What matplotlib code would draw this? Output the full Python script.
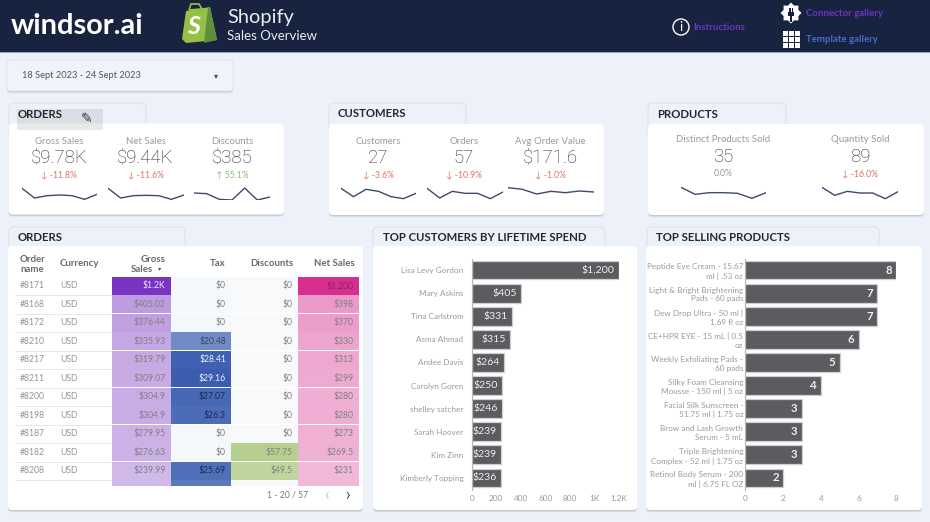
import numpy as np
import matplotlib
matplotlib.use("Agg")
import matplotlib.pyplot as plt
from matplotlib.patches import FancyBboxPatch, Rectangle, Polygon, Circle
from matplotlib.ticker import FuncFormatter

plt.rcParams['font.family'] = ['Lato', 'DejaVu Sans']

# ---------- data ----------
customers = ["Lisa Levy Gordon", "Mary Askins", "Tina Carlstrom", "Asma Ahmad", "Andee Davis",
             "Carolyn Goren", "shelley satcher", "Sarah Hoover", "Kim Zinn", "Kimberly Topping"]
customer_spend = [1200, 405, 331, 315, 264, 250, 246, 239, 239, 236]
products = ["Peptide Eye Cream - 15.67\nml | .53 oz", "Light & Bright Brightening\nPads - 60 pads",
            "Dew Drop Ultra - 50 ml |\n1.69 fl oz", "CE+HPR EYE - 15 mL | 0.5\noz",
            "Weekly Exfoliating Pads -\n60 pads", "Silky Foam Cleansing\nMousse - 150 ml | 5 oz",
            "Facial Silk Sunscreen -\n51.75 ml | 1.75 oz", "Brow and Lash Growth\nSerum - 5 mL",
            "Triple Brightening\nComplex - 52 ml | 1.75 oz", "Retinol Body Serum - 200\nml | 6.75 FL OZ"]
product_qty = [8, 7, 7, 6, 5, 4, 3, 3, 3, 2]

order_names = ["#8171", "#8168", "#8172", "#8210", "#8217", "#8211", "#8200", "#8198", "#8187", "#8182", "#8208"]
gross = [1200, 405.02, 376.44, 335.93, 319.79, 309.07, 304.9, 304.9, 279.95, 276.63, 239.99]
gross_txt = ["$1.2K", "$405.02", "$376.44", "$335.93", "$319.79", "$309.07", "$304.9", "$304.9", "$279.95", "$276.63", "$239.99"]
tax = [0, 0, 0, 20.48, 28.41, 29.16, 27.07, 26.3, 0, 0, 25.69]
tax_txt = ["$0", "$0", "$0", "$20.48", "$28.41", "$29.16", "$27.07", "$26.3", "$0", "$0", "$25.69"]
discounts = [0, 0, 0, 0, 0, 0, 0, 0, 0, 57.75, 49.5]
disc_txt = ["$0"] * 9 + ["$57.75", "$49.5"]
net = [1200, 398, 370, 330, 313, 299, 280, 280, 273, 269.5, 231]
net_txt = ["$1,200", "$398", "$370", "$330", "$313", "$299", "$280", "$280", "$273", "$269.5", "$231"]

kpi_labels = ["Gross Sales", "Net Sales", "Discounts", "Customers", "Orders", "Avg Order Value",
              "Distinct Products Sold", "Quantity Sold"]
kpi_values = ["$9.78K", "$9.44K", "$385", "27", "57", "$171.6", "35", "89"]
kpi_deltas = ["-11.8%", "-11.6%", "55.1%", "-3.6%", "-10.9%", "-1.0%", "0.0%", "-16.0%"]
spark_gross = [35, 6, 13, 15, 13, 2, 17]
spark_net = [35, 6, 13, 14, 13, 2, 15]
spark_disc = [21, 19, 2, 0, 36, 0, 9]
spark_cust = [35, 10, 32, 26, 10, 4, 20]
spark_orders = [35, 6, 26, 20, 20, 4, 24]
spark_aov = [37, 32, 18, 26, 22, 27, 24]
spark_dist = [38, 17, 22, 22, 20, 5, 22]
spark_qty = [38, 14, 26, 21, 21, 4, 25]

W, H = 930, 522
GREY = "#9a9a9c"
BG = "#edf1f9"
BAR = "#5b5c60"


def px_axes(x0, y0, x1, y1):
    return fig.add_axes([x0 / W, 1 - y1 / H, (x1 - x0) / W, (y1 - y0) / H])


def fs(px):
    return px * 0.72


fig = plt.figure(figsize=(9.3, 5.22), dpi=100, facecolor=BG)
bg = fig.add_axes([0, 0, 1, 1])
bg.set_xlim(0, W)
bg.set_ylim(H, 0)
bg.axis("off")


def box(x0, y0, x1, y1, fc="white", z=2, r=4, shadow=True, ec="none"):
    if shadow:
        for off, a in ((2.2, .10), (1.2, .18)):
            bg.add_patch(FancyBboxPatch((x0 + r, y0 + r + off), x1 - x0 - 2 * r, y1 - y0 - 2 * r,
                                        boxstyle=f"round,pad={r},rounding_size={r}", fc="#555", ec="none",
                                        alpha=a, zorder=z))
    bg.add_patch(FancyBboxPatch((x0 + r, y0 + r), x1 - x0 - 2 * r, y1 - y0 - 2 * r,
                                boxstyle=f"round,pad={r},rounding_size={r}", fc=fc, ec=ec, lw=.6, zorder=z))


# header
bg.add_patch(Rectangle((0, 0), W, 52, fc="#18243f", ec="none", zorder=1))
bg.add_patch(Rectangle((0, 52), W, 1, fc="#9aa3b5", ec="none", zorder=1))
bg.text(11, 26, "windsor.ai", color="white", fontsize=fs(29), fontweight="bold", va="center", zorder=3)
bg.add_patch(Polygon([[186, 11], [210, 7], [217, 40], [186, 43], [182, 39]], fc="#95bf47", ec="none", zorder=3))
bg.add_patch(Polygon([[208, 8], [210, 7], [217, 40], [204, 43]], fc="#5e8e3e", ec="none", zorder=3))
bg.add_patch(Polygon([[189, 10], [191, 4], [199, 4], [202, 9]], fc="none", ec="#95bf47", lw=1.2, zorder=3))
bg.text(193.5, 27, "S", color="white", fontsize=fs(25), fontweight="bold", fontstyle="italic", ha="center",
        va="center", zorder=4)
bg.text(227, 17, "Shopify", color="#e8ebf0", fontsize=fs(20), va="center", zorder=3)
bg.text(227, 36, "Sales Overview", color="#e8ebf0", fontsize=fs(13.3), va="center", zorder=3)

bg.add_patch(Circle((681, 27), 8, fc="none", ec="white", lw=1, zorder=3))
bg.text(681, 27, "i", color="white", fontsize=fs(13), ha="center", va="center", zorder=3)
bg.text(693.5, 27.5, "Instructions", color="#6a35c0", fontsize=fs(9.8), fontweight="bold", va="center", zorder=3)
bg.text(806, 13.5, "Connector gallery", color="#6a35c0", fontsize=fs(9.6), fontweight="bold", va="center", zorder=3)
bg.text(806, 40, "Template gallery", color="#4a6ad0", fontsize=fs(9.6), fontweight="bold", va="center", zorder=3)
ang = np.linspace(0, 2 * np.pi, 17)[:-1]
rad = np.where(np.arange(16) % 2 == 0, 10.5, 8)
bg.add_patch(Polygon(np.c_[791 + rad * np.cos(ang), 13 + rad * np.sin(ang)], fc="white", ec="none", zorder=3))
bg.add_patch(Rectangle((788, 11.5), 6, 4.5, fc="#18243f", ec="none", zorder=4))
bg.add_patch(Rectangle((789.2, 8), 1.3, 4, fc="#18243f", ec="none", zorder=4))
bg.add_patch(Rectangle((791.7, 8), 1.3, 4, fc="#18243f", ec="none", zorder=4))
bg.add_patch(Rectangle((790.3, 15), 1.4, 7, fc="#18243f", ec="none", zorder=4))
for i in range(3):
    for j in range(3):
        bg.add_patch(Rectangle((782.5 + i * 6.3, 30.5 + j * 6.0), 5.2, 5.1, fc="white", ec="none", zorder=3))

# date control
box(7, 60, 233, 91, fc="#f0f3f9", ec="#dfe2e9")
bg.text(22, 75.5, "18 Sept 2023 - 24 Sept 2023", color="#555", fontsize=fs(9.3), va="center", zorder=3)
bg.text(216, 75.5, "▾", color="#444", fontsize=fs(8), ha="center", va="center", zorder=3)

# section tabs and cards
tabs = [(9, 103, 146, "ORDERS", 17.5, 114), (329, 103, 466, "CUSTOMERS", 338, 113.5),
        (648, 103, 786, "PRODUCTS", 657.5, 114), (9, 227, 185, "ORDERS", 17.5, 237.5),
        (373, 227, 605, "TOP CUSTOMERS BY LIFETIME SPEND", 382.5, 237.5),
        (647, 227, 879, "TOP SELLING PRODUCTS", 656, 237.5)]
for x0, y0, x1, label, tx, ty in tabs:
    box(x0, y0, x1, y0 + 32, fc=BG, r=5, ec="#d8dce4", shadow=False, z=2)
    bg.text(tx, ty, label, color="#26282c", fontsize=fs(11.4), fontweight="bold", va="center", zorder=6)
cards = [(8.5, 123.5, 284, 214.5), (329, 124, 604, 215), (648, 124, 924, 215),
         (8, 246, 363, 510), (373, 246, 637, 510), (646, 246, 922, 510)]
for c in cards:
    box(*c, z=3)
bg.add_patch(Rectangle((17, 109), 86, 20.5, fc="#888", alpha=.18, ec="none", zorder=5))
bg.text(87, 119, "✎", color="#333", fontsize=fs(14), ha="center", va="center", zorder=6,
        family="DejaVu Sans")

# KPIs
kpi_x = [59, 145.5, 232, 378, 464, 550.5, 723, 860]
kpi_y = [141, 141, 141, 141, 141, 141, 140, 140]
spark_series = [spark_gross, spark_net, spark_disc, spark_cust, spark_orders, spark_aov, spark_dist, spark_qty]
spark_x = [(22, 97), (108, 184), (194, 270), (341, 416), (427, 503), (508, 594), (681, 766), (822, 898)]
for lab, val, dl, x, y, s, sx in zip(kpi_labels, kpi_values, kpi_deltas, kpi_x, kpi_y, spark_series, spark_x):
    bg.text(x, y, lab, color=GREY, fontsize=fs(9.6), ha="center", va="center", zorder=6)
    bg.text(x, y + 17, val, color="#2c2c2f", fontsize=fs(18.6), fontweight="light", family="Roboto", ha="center",
            va="center", zorder=6)
    if dl.startswith("-"):
        bg.text(x, y + 34, "↓ " + dl, color="#e0705f", fontsize=fs(8.6), ha="center", va="center", zorder=6)
    elif dl == "0.0%":
        bg.text(x, y + 34, dl, color=GREY, fontsize=fs(8.6), ha="center", va="center", zorder=6)
    else:
        bg.text(x, y + 34, "↑ " + dl, color="#8fb878", fontsize=fs(8.6), ha="center", va="center", zorder=6)
    sa = px_axes(sx[0], 186, sx[1], 200)
    sa.patch.set_alpha(0)
    sa.axis("off")
    sa.plot(np.arange(len(s)), s, color="#3c4a6b", lw=1.0)
    sa.set_xlim(0, len(s) - 1)
    sa.set_ylim(0, 42)

# ---------- table ----------
col_edges = [111.5, 170.5, 231, 298, 358.5]
row_top, row_h = 276.7, 18.5


def mix(base, t, low="#ffffff"):
    a = np.array(matplotlib.colors.to_rgb(low))
    b = np.array(matplotlib.colors.to_rgb(base))
    return tuple(a + (b - a) * t)


def cell_color(col, v, vmax):
    if col == 0:
        return mix("#7a35c0", (v / vmax) ** .65)
    if col == 1:
        return mix("#3a5db0", v / vmax, "#f4f8fb") if v else "#f4f8fb"
    if col == 2:
        return mix("#b5cf8e", v / vmax, "#f7f9fa") if v else "#f7f9fa"
    return mix("#d62f8f", (v / vmax) ** .65)


def text_color(col, i, v):
    if col == 0 and i == 0:
        return "#f0e6fa"
    if col == 3 and i == 0:
        return "#8a2468"
    if col == 1 and v > 28:
        return "#eef2fb"
    if col == 1 and v > 25:
        return "#1a2a58"
    if col == 1 and v > 0:
        return "#3d4660"
    return "#808083"


for lab, x, y, ha in [("Order", 20, 259, "left"), ("name", 20, 269, "left"), ("Currency", 60, 263.5, "left"),
                      ("Gross", 165, 259, "right"), ("Sales", 153, 269, "right"),
                      ("Tax", 225.5, 263.5, "right"), ("Discounts", 293, 263.5, "right"),
                      ("Net Sales", 354.5, 263.5, "right")]:
    bg.text(x, y, lab, color="#6a6b6f", fontsize=fs(9.6), fontweight="bold", ha=ha, va="center", zorder=6)
bg.text(160, 269, "▾", color="#555", fontsize=fs(6.5), ha="center", va="center", zorder=6)

columns = [(gross, gross_txt), (tax, tax_txt), (discounts, disc_txt), (net, net_txt)]
for i, name in enumerate(order_names):
    y = row_top + i * row_h
    cy = y + row_h / 2
    bg.add_line(plt.Line2D([15, 358], [y + row_h, y + row_h], color="#e8e8e8", lw=.7, zorder=4))
    bg.text(20, cy, name, color="#949496", fontsize=fs(8.6), va="center", zorder=6)
    bg.text(60, cy, "USD", color="#949496", fontsize=fs(8.6), va="center", zorder=6)
    for c, (vals, txts) in enumerate(columns):
        bg.add_patch(Rectangle((col_edges[c], y), col_edges[c + 1] - col_edges[c], row_h - .5,
                               fc=cell_color(c, vals[i], max(vals)), ec="none", zorder=5))
        bg.text(col_edges[c + 1] - 5, cy, txts[i], color=text_color(c, i, vals[i]), fontsize=fs(8.6), ha="right",
                va="center", zorder=6)
# partially visible next row
y = row_top + len(order_names) * row_h
for c, (vals, txts) in enumerate(columns):
    v = [231.0, 24.0, 0, 225.0][c]
    bg.add_patch(Rectangle((col_edges[c], y), col_edges[c + 1] - col_edges[c], 486 - y,
                           fc=cell_color(c, v, max(vals)), ec="none", zorder=5))
bg.text(308, 494.5, "1 - 20 / 57", color="#77787c", fontsize=fs(8.6), ha="right", va="center", zorder=6)
bg.text(326, 495.5, "‹", color="#c4c4c4", fontsize=fs(17), ha="center", va="center", zorder=6)
bg.text(348, 495.5, "›", color="#444", fontsize=fs(17), ha="center", va="center", zorder=6)


# ---------- bar charts ----------
def barh_chart(x0, x1, xmax, names, vals, fmt, ticks, tickfmt, lab_fs, lab_weight):
    a = px_axes(x0, 258.5, x1, 489.5)
    a.patch.set_alpha(0)
    pos = np.arange(len(names))
    a.barh(pos, vals, height=.81, color=BAR, edgecolor="#cfcfd2", linewidth=.9, zorder=2)
    a.set_xlim(0, xmax)
    a.set_ylim(len(names) - .5, -.5)
    a.set_yticks(pos, names)
    a.set_xticks(ticks)
    a.xaxis.set_major_formatter(FuncFormatter(tickfmt))
    a.tick_params(axis="both", length=0, colors=GREY, labelsize=fs(8.2))
    a.tick_params(axis="x", pad=4)
    for s in ("top", "right", "bottom"):
        a.spines[s].set_visible(False)
    a.spines["left"].set_color("#b5b5b8")
    for p, v in zip(pos, vals):
        a.annotate(fmt(v), (v, p), xytext=(-3, 0), textcoords="offset points", ha="right", va="center",
                   color="#eeeeee", fontsize=lab_fs, fontweight=lab_weight, zorder=3)
    return a


def money_tick(v, _):
    return f"{v / 1000:g}K" if v >= 1000 else f"{v:g}"


ac = barh_chart(471.7, 619, 1200, customers, customer_spend, lambda v: f"${v:,.0f}",
                [0, 200, 400, 600, 800, 1000, 1200], money_tick, fs(10.5), "normal")
ap = barh_chart(745.3, 896.3, 8, products, product_qty, lambda v: f"{v}",
                [0, 2, 4, 6, 8], lambda v, _: f"{v:g}", fs(11.5), "bold")
ac.tick_params(axis="y", pad=6)
ap.tick_params(axis="y", pad=1.5)
for t in ap.get_yticklabels():
    t.set_linespacing(1.3)
    t.set_fontsize(fs(8.1))

fig.savefig("out.png", dpi=100, facecolor=BG)
